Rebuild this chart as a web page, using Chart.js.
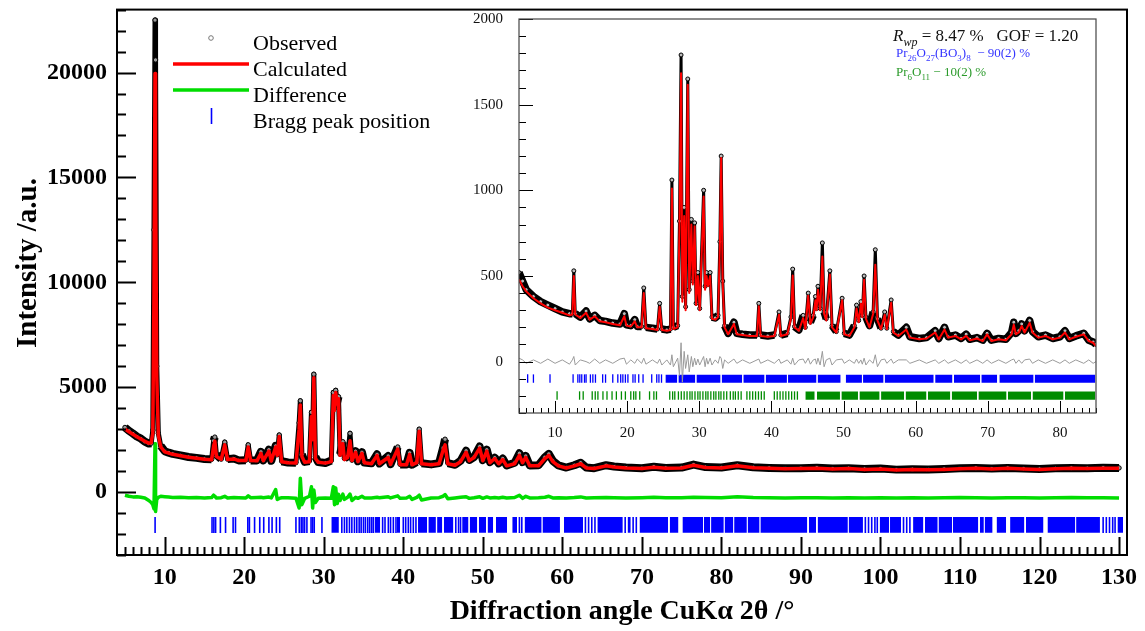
<!DOCTYPE html>
<html>
<head>
<meta charset="utf-8">
<script src="https://cdn.jsdelivr.net/npm/chart.js@4.4.0/dist/chart.umd.min.js"></script>
<style>
  html, body { margin: 0; padding: 0; background: #fff; }
  #wrap { position: relative; width: 1145px; height: 631px; }
  #main { position: absolute; left: 0; top: 0; }
  #inset { position: absolute; left: 460px; top: 12px; }
</style>
</head>
<body>
<div id="wrap">
  <canvas id="main" width="1145" height="631"></canvas>
  <canvas id="inset" width="650" height="440"></canvas>
</div>
<script>
// ---- main pattern (2theta 5-130) ----
var mainX = [
  5.0,5.5,6.0,6.5,7.0,7.5,8.0,8.3,8.5,8.65,
  8.78,8.85,9.0,9.2,9.5,10.0,10.5,11.0,12.0,13.0,
  14.0,15.0,15.9,16.15,16.3,16.5,17.1,17.55,17.9,18.7,
  19.3,20.2,20.5,20.8,21.6,22.1,22.4,23.1,23.4,23.95,
  24.15,24.4,24.7,25.5,26.5,26.9,27.05,27.25,27.6,28.2,
  28.45,28.6,28.75,28.95,29.3,30.2,30.95,31.2,31.35,31.5,
  31.7,31.85,32.05,32.4,32.6,33.0,33.3,33.55,34.0,34.3,
  34.8,35.1,36.0,36.7,37.0,38.1,38.4,39.3,39.6,40.4,
  40.8,41.1,41.7,42.0,42.3,43.5,44.5,45.0,45.25,45.6,
  46.5,47.2,47.9,48.3,48.9,49.6,50.0,50.5,50.9,51.5,
  52.0,52.5,53.0,54.0,54.6,55.0,55.4,55.9,57.0,57.8,
  58.3,58.8,59.5,60.5,61.5,62.3,63.0,64.0,65.5,66.5,
  68,70,71.5,73,75,76.5,78,80,82,84,
  86,88,90,92,94,96,98,100,102,104,
  106,108,110,112,114,116,118,120,122,124,
  126,128,130
];
var mainCalc = [
  3000,2880,2760,2640,2530,2420,2330,2350,2800,9500,
  19950,15000,5500,2700,2150,1920,1860,1800,1730,1660,
  1610,1560,1540,2200,2420,1700,1560,2250,1550,1580,
  1500,1500,2150,1500,1490,1850,1500,1950,1480,2150,
  1750,2650,1450,1400,1380,3000,4150,1700,1420,1450,
  3600,2500,5450,1600,1420,1380,1450,4600,3900,4750,
  4200,4450,1750,2300,1550,1650,2450,1500,1900,1450,
  1850,1400,1350,1750,1350,1650,1320,2050,1300,1300,
  1800,1300,1400,2900,1350,1300,1350,2000,2250,1350,
  1280,1450,1900,1500,1650,2100,1500,1950,1400,1600,
  1350,1550,1250,1350,1750,1400,1650,1250,1250,1600,
  1750,1450,1250,1150,1250,1350,1150,1120,1250,1200,
  1150,1120,1180,1130,1150,1280,1170,1150,1250,1160,
  1130,1110,1120,1140,1100,1120,1080,1100,1050,1070,
  1060,1080,1110,1130,1100,1130,1100,1080,1110,1130,
  1120,1140,1130
];
var mainObs = [
  3080,2920,2790,2650,2550,2400,2310,2330,2950,12500,
  22500,20600,6000,2800,2200,1950,1880,1820,1750,1670,
  1630,1580,1560,2450,2620,1780,1570,2380,1570,1600,
  1510,1520,2250,1510,1510,1920,1510,2020,1490,2200,
  1780,2720,1470,1410,1400,3300,4350,1800,1440,1480,
  3800,2650,5620,1680,1430,1390,1500,4750,4000,4850,
  4300,4550,1800,2400,1600,1700,2800,1520,1950,1470,
  1900,1410,1370,1800,1360,1720,1330,2150,1320,1320,
  1870,1310,1430,3000,1370,1320,1380,2100,2520,1380,
  1300,1490,1970,1530,1670,2170,1520,2020,1430,1640,
  1370,1600,1270,1400,1850,1430,1720,1270,1280,1660,
  1820,1490,1270,1170,1280,1400,1170,1140,1280,1220,
  1170,1140,1210,1150,1170,1310,1190,1170,1280,1180,
  1150,1130,1140,1160,1120,1140,1100,1120,1070,1090,
  1080,1100,1130,1150,1120,1150,1120,1100,1130,1150,
  1140,1160,1150
];
var mainDiff = [
  -150,-200,-230,-220,-250,-280,-400,-500,-600,-800,
  2300,-930,-350,-250,-200,-220,-240,-260,-250,-270,
  -260,-280,-260,-150,-200,-280,-270,-200,-280,-260,
  -270,-280,-180,-270,-260,-250,-270,-240,-280,120,
  -350,-300,-270,-270,-290,-760,660,-600,-300,-200,
  250,-760,100,-500,-300,-280,-300,250,-600,200,
  -550,-100,-400,-100,-350,-250,-100,-400,-250,-300,
  -200,-280,-280,-250,-270,-220,-280,-180,-300,-280,
  -200,-350,-250,-150,-380,-280,-270,-200,-120,-320,
  -280,-250,-220,-300,-270,-220,-300,-230,-280,-260,
  -280,-250,-280,-260,-150,-300,-200,-280,-270,-250,
  -200,-280,-270,-280,-260,-230,-280,-270,-260,-270,
  -280,-270,-250,-270,-270,-250,-260,-270,-220,-260,
  -270,-280,-270,-270,-280,-270,-280,-270,-280,-270,
  -280,-270,-260,-270,-280,-270,-270,-280,-270,-260,
  -270,-270,-280
];
var mainBraggTicks = [8.79,15.95,16.18,16.4,17.0,17.65,18.6,18.9,20.45,20.65,21.3,21.95,22.45,23.1,23.5,24.04,24.46,
  26.5,26.92,27.17,27.38,27.59,27.88,28.4,28.6,28.8,29.77,32.27,32.6,32.9,33.23,33.53,33.86,34.15,34.45,34.7,34.99,
  35.24,35.53,35.78,36.03,36.24,37.4,37.7,38.12,38.4,38.75,39.08,40.0,40.3,40.63,40.92,41.26,41.59,46.6,46.95,47.2,
  54.6,54.9,62.9,63.3,63.7,64.1,67.9,68.9,69.3,98.1,98.5,98.9,99.3,99.6,102.9,103.3,103.7,128.0,128.4,128.8,129.2,129.5];
var mainBraggBands = [[30.95,31.9],[36.4,37.1],[39.2,39.6],[41.85,43.0],[43.15,44.1],[44.25,44.9],[45.1,46.3],
  [47.4,48.2],[48.35,49.3],[49.5,50.4],[50.6,51.3],[51.65,53.05],[53.7,54.3],[55.25,57.4],[57.5,59.7],[60.2,62.6],
  [64.4,67.6],[68.2,68.6],[69.7,73.3],[73.5,74.6],[75.1,77.7],[77.8,78.6],[78.7,80.3],[80.4,81.5],[81.6,83.2],
  [83.3,84.8],[84.9,90.8],[91.0,91.9],[92.1,95.9],[96.0,97.8],[99.9,101.1],[101.2,102.6],[104.1,105.4],[105.6,107.2],
  [107.3,109.0],[109.1,112.3],[112.5,113.0],[113.1,114.1],[114.6,115.8],[116.3,118.1],[118.3,120.5],[121.0,124.5],
  [124.6,127.6],[129.8,130.5]];
var mainXTicks = [10,20,30,40,50,60,70,80,90,100,110,120,130];
var mainYTicks = [0,5000,10000,15000,20000];

// ---- inset pattern (2theta 5-85) ----
var insetX = [
  5.0,5.5,6.0,7.0,8.0,9.0,10.0,11.0,12.0,12.4,
  12.6,12.8,13.5,14.3,14.8,15.5,16.2,17.0,18.0,19.0,
  19.6,19.9,20.5,21.05,21.4,22.0,22.3,22.6,23.5,24.2,
  24.5,24.8,25.5,26.0,26.2,26.4,27.0,27.25,27.47,27.65,
  27.9,28.1,28.4,28.6,28.9,29.1,29.35,29.55,29.8,30.05,
  30.6,30.8,31.0,31.2,31.5,31.75,32.2,32.6,32.85,33.03,
  33.25,33.5,34.0,34.8,35.2,36.0,37.0,38.0,38.25,38.5,
  39.5,40.4,41.05,41.3,42.2,42.7,42.95,43.2,43.8,44.4,
  44.7,45.1,45.4,45.8,46.1,46.25,46.45,46.75,47.06,47.3,
  47.6,48.1,48.4,49.0,49.8,50.1,50.8,51.5,51.8,52.1,
  52.4,52.6,52.85,53.1,53.6,54.1,54.4,54.7,55.2,55.7,
  56.0,56.6,56.9,57.6,58.7,59.2,60.5,61.5,62.7,63.2,
  64.0,64.5,65.5,66.3,67.0,67.5,68.5,69.3,69.9,70.5,
  71.5,72.5,73.3,73.6,73.9,74.3,74.7,75.1,75.8,76.2,
  77,78,79,80,80.7,81.3,82.2,83.3,84.0,84.6,
  85.0
];
var insetCalc = [
  480,440,410,370,340,315,300,285,270,275,
  500,275,255,285,245,265,235,230,220,212,
  265,210,205,235,200,200,400,195,190,185,
  320,185,180,185,1010,190,200,780,1684,350,
  850,300,1616,400,800,450,790,330,500,300,
  964,420,500,440,500,250,245,260,670,1188,
  450,200,160,220,160,155,150,150,323,150,
  145,150,274,150,160,250,502,200,180,254,
  190,385,220,260,358,300,420,300,614,280,
  240,508,200,170,358,160,150,200,310,230,
  338,260,478,250,200,280,566,240,190,274,
  190,344,170,150,187,140,130,135,170,130,
  187,140,150,130,150,125,135,120,159,120,
  130,125,160,216,160,170,208,170,226,170,
  140,150,130,140,170,130,145,159,120,110,
  90
];
var insetObs = [
  520,470,420,380,350,330,310,290,280,280,
  530,280,260,295,250,270,240,235,225,220,
  280,215,210,245,205,205,430,200,195,190,
  340,190,185,190,1060,200,210,820,1790,380,
  900,320,1650,420,830,470,810,340,520,310,
  1000,440,520,450,520,260,255,270,700,1200,
  470,210,165,230,165,160,155,155,340,155,
  150,155,290,155,165,260,540,205,185,270,
  200,400,230,270,380,310,440,310,693,290,
  250,530,210,175,370,165,155,210,330,240,
  350,270,500,260,210,290,653,250,195,290,
  195,360,175,155,200,145,135,140,180,135,
  200,145,155,135,160,130,140,125,165,125,
  135,130,170,230,165,180,220,180,240,175,
  145,155,135,145,180,135,150,165,125,115,
  100
];
var insetDiff = [
  20,10,-10,10,-10,15,-10,10,-15,10,
  30,-20,10,0,-10,15,-10,10,-10,15,
  20,-15,10,-10,15,-10,20,-15,10,-10,
  15,-20,10,-20,40,-30,20,-80,110,-120,
  60,-40,40,-60,30,-30,20,-20,15,-20,
  30,-30,20,-15,20,-20,10,-10,30,20,
  -40,10,-10,15,-10,10,-10,10,15,-10,
  10,-10,15,-10,10,-15,20,-20,10,15,
  -10,20,-15,10,15,-15,20,-20,60,-30,
  10,20,-20,10,15,-10,10,-10,15,-10,
  10,-15,20,-20,10,-10,40,-30,10,15,
  -10,15,-10,10,10,-10,10,-10,10,-10,
  10,-10,10,-10,10,-10,10,-10,10,-10,
  10,-10,10,15,-10,10,-10,10,15,-10,
  10,-10,10,-10,10,-10,10,-10,10,-10,
  0
];
var insetBlueTicks = [6.2,7.0,9.3,12.5,13.16,13.43,13.7,14.08,14.3,14.9,15.24,15.6,16.6,17.0,18.0,18.7,19.1,19.4,
  19.75,20.1,20.8,21.1,21.6,22.2,23.4,24.1,24.4,24.76];
var insetBlueBands = [[25.3,26.95],[27.1,29.45],[29.6,32.95],[33.1,35.95],[36.1,39.05],[39.2,42.15],[42.3,46.25],
  [46.4,49.6],[50.3,52.55],[52.7,55.55],[55.7,62.5],[62.7,65.1],[65.3,68.95],[69.1,71.3],[71.6,76.35],[76.5,84.9]];
var insetGreenTicks = [10.28,13.4,13.9,15.15,15.57,15.94,16.64,17.2,17.9,18.5,19.2,19.75,20.5,20.9,21.2,21.74,23.1,
  23.7,24.06,25.9,26.3,26.6,27.1,27.5,27.9,28.3,28.7,29.0,29.4,29.8,30.1,30.5,30.9,31.2,31.6,32.0,32.3,32.7,33.0,
  33.4,33.8,34.3,34.7,35.0,35.4,35.8,36.6,37.0,37.4,37.8,38.2,38.6,39.0,40.4,40.8,41.2,41.6,42.0,42.4,42.8,43.2,43.6];
var insetGreenBands = [[44.7,46.0],[46.3,49.5],[49.7,52.0],[52.2,55.0],[55.2,58.4],[58.6,61.5],[61.7,64.8],
  [65.0,68.5],[68.7,72.6],[72.8,76.0],[76.2,80.5],[80.7,84.9]];
var insetXTicks = [10,20,30,40,50,60,70,80];
var insetYTicks = [0,500,1000,1500,2000];

var serif = '"Liberation Serif", "Times New Roman", serif';

function pts(xs, ys) {
  return xs.map(function (x, i) { return { x: x, y: ys[i] }; });
}
function tickPts(xs, level) {
  return xs.map(function (x) { return { x: x, y: level }; });
}
function bandPts(bands, level) {
  var out = [];
  bands.forEach(function (b) {
    out.push({ x: b[0], y: level }, { x: b[1], y: level }, { x: b[1], y: null });
  });
  return out;
}
// the observed band is thick on the background and thin on the steep peak flanks
function obsWidth(flat, steep) {
  return function (c) {
    var dx = Math.abs(c.p1.x - c.p0.x), dy = Math.abs(c.p1.y - c.p0.y);
    return dy > 3 * dx + 5 ? steep : flat;
  };
}

// inward major/minor ticks plus a box round the plot area
function frameTicks(cfg) {
  return {
    id: 'frameTicks',
    afterDraw: function (chart) {
      var ctx = chart.ctx, a = chart.chartArea, xs = chart.scales.x, ys = chart.scales.y, v, p, len;
      ctx.save();
      ctx.strokeStyle = '#000';
      ctx.lineWidth = cfg.tickWidth;
      ctx.beginPath();
      for (v = cfg.xFrom; v <= cfg.xTo; v += cfg.xMinor) {
        p = Math.round(xs.getPixelForValue(v)) + 0.5;
        len = v % cfg.xMajor === 0 ? cfg.xMajorLen : cfg.xMinorLen;
        ctx.moveTo(p, a.bottom); ctx.lineTo(p, a.bottom - len);
      }
      for (v = cfg.yFrom; v <= cfg.yTo; v += cfg.yMinor) {
        p = Math.round(ys.getPixelForValue(v)) + 0.5;
        len = v % cfg.yMajor === 0 ? cfg.yMajorLen : cfg.yMinorLen;
        ctx.moveTo(a.left, p); ctx.lineTo(a.left + len, p);
      }
      ctx.stroke();
      ctx.lineWidth = cfg.frameWidth;
      ctx.strokeStyle = cfg.frameColor;
      ctx.strokeRect(a.left, a.top, a.right - a.left, a.bottom - a.top);
      ctx.restore();
    }
  };
}

function drawRuns(ctx, x, y, runs, size, color) {
  ctx.fillStyle = color;
  ctx.textAlign = 'left';
  ctx.textBaseline = 'alphabetic';
  runs.forEach(function (r) {
    var fs = r.sub ? Math.round(size * 0.68) : size;
    ctx.font = (r.it ? 'italic ' : '') + fs + 'px ' + serif;
    ctx.fillText(r.t, x, y + (r.sub ? size * 0.3 : 0));
    x += ctx.measureText(r.t).width;
  });
}

var mainLegend = {
  id: 'mainLegend',
  afterDraw: function (chart) {
    var ctx = chart.ctx;
    ctx.save();
    ctx.lineWidth = 1;
    ctx.strokeStyle = '#777';
    ctx.beginPath(); ctx.arc(211, 38, 2.3, 0, Math.PI * 2); ctx.stroke();
    ctx.lineWidth = 3.5;
    ctx.strokeStyle = '#ff0000';
    ctx.beginPath(); ctx.moveTo(173, 64); ctx.lineTo(249, 64); ctx.stroke();
    ctx.strokeStyle = '#00dd00';
    ctx.beginPath(); ctx.moveTo(173, 90); ctx.lineTo(249, 90); ctx.stroke();
    ctx.lineWidth = 1.6;
    ctx.strokeStyle = '#0000ff';
    ctx.beginPath(); ctx.moveTo(211.5, 108); ctx.lineTo(211.5, 124); ctx.stroke();
    ctx.fillStyle = '#000';
    ctx.font = '22px ' + serif;
    ctx.textAlign = 'left';
    ctx.textBaseline = 'alphabetic';
    ctx.fillText('Observed', 253, 50);
    ctx.fillText('Calculated', 253, 76);
    ctx.fillText('Difference', 253, 101.5);
    ctx.fillText('Bragg peak position', 253, 127.5);
    // y axis title
    ctx.translate(29, 263);
    ctx.rotate(-Math.PI / 2);
    ctx.font = 'bold 29px ' + serif;
    ctx.textAlign = 'center';
    ctx.textBaseline = 'middle';
    ctx.fillText('Intensity /a.u.', 0, 0);
    ctx.restore();
  }
};

var insetText = {
  id: 'insetText',
  afterDraw: function (chart) {
    var ctx = chart.ctx;
    ctx.save();
    drawRuns(ctx, 433, 29, [{ t: 'R', it: true }, { t: 'wp', it: true, sub: true }, { t: ' = 8.47 %   GOF = 1.20' }], 17, '#111');
    drawRuns(ctx, 436, 45, [{ t: 'Pr' }, { t: '26', sub: true }, { t: 'O' }, { t: '27', sub: true }, { t: '(BO' },
      { t: '3', sub: true }, { t: ')' }, { t: '8', sub: true }, { t: '  \u2212 90(2) %' }], 13, '#3535ff');
    drawRuns(ctx, 436, 64, [{ t: 'Pr' }, { t: '6', sub: true }, { t: 'O' }, { t: '11', sub: true }, { t: ' \u2212 10(2) %' }], 13, '#2a9a2a');
    ctx.restore();
  }
};

function fixTicks(list) {
  return function (s) { s.ticks = list.map(function (v) { return { value: v }; }); };
}
function fixX(h) {
  return function (s) { s.height = h; s.paddingLeft = 0; s.paddingRight = 0; };
}
function fixY(w) {
  return function (s) { s.width = w; s.paddingTop = 0; s.paddingBottom = 0; };
}

// ---- main chart ----
new Chart(document.getElementById('main'), {
  type: 'line',
  data: {
    datasets: [
      { label: 'Calculated', data: pts(mainX, mainCalc), borderColor: '#ff0000', borderWidth: 3.5,
        pointRadius: 0, borderJoinStyle: 'round', order: 0 },
      { label: 'Observed', data: pts(mainX, mainObs), borderColor: '#000', borderWidth: 8,
        segment: { borderWidth: obsWidth(8, 5) },
        borderJoinStyle: 'round', pointRadius: 2.2, pointBorderColor: '#000', pointBackgroundColor: '#999',
        pointBorderWidth: 1, order: 1 },
      { label: 'Difference', data: pts(mainX, mainDiff), borderColor: '#00dd00', borderWidth: 3.5,
        pointRadius: 0, borderJoinStyle: 'round', order: 2 },
      { label: 'Bragg peak position', data: tickPts(mainBraggTicks, -1565), showLine: false,
        pointStyle: 'line', pointRotation: 90, pointRadius: 8, pointBorderColor: '#0000ff',
        pointBorderWidth: 1.6, order: 3 },
      { label: 'Bragg bands', data: bandPts(mainBraggBands, -1185), borderColor: 'rgba(0,0,0,0)',
        borderWidth: 0, pointRadius: 0, backgroundColor: '#0000ff', fill: { value: -1945 },
        spanGaps: false, order: 4 }
    ]
  },
  options: {
    responsive: false,
    animation: false,
    layout: { padding: { top: 7, right: 18, left: 0, bottom: 0 } },
    plugins: { legend: { display: false }, tooltip: { enabled: false } },
    scales: {
      x: {
        type: 'linear', min: 4, max: 131,
        afterBuildTicks: fixTicks(mainXTicks),
        afterFit: fixX(76),
        grid: { display: false, drawTicks: false },
        border: { display: false },
        ticks: { color: '#000', padding: 8, maxRotation: 0, autoSkip: false,
          font: { family: serif, size: 24, weight: 'bold' }, callback: function (v) { return String(v); } },
        title: { display: true, text: 'Diffraction angle CuK\u03b1 2\u03b8 /\u00b0', color: '#000',
          font: { family: serif, size: 28, weight: 'bold' }, padding: { top: 0, bottom: 2 } }
      },
      y: {
        type: 'linear', min: -3000, max: 23000,
        afterBuildTicks: fixTicks(mainYTicks),
        afterFit: fixY(117),
        grid: { display: false, drawTicks: false },
        border: { display: false },
        ticks: { color: '#000', padding: 10, autoSkip: false,
          font: { family: serif, size: 24, weight: 'bold' }, callback: function (v) { return String(v); } }
      }
    }
  },
  plugins: [frameTicks({ xFrom: 5, xTo: 130, xMinor: 1, xMajor: 10, xMajorLen: 18, xMinorLen: 8,
    yFrom: -3000, yTo: 23000, yMinor: 1000, yMajor: 5000, yMajorLen: 19, yMinorLen: 9,
    tickWidth: 2, frameWidth: 2, frameColor: '#000' }), mainLegend]
});

// ---- inset chart ----
new Chart(document.getElementById('inset'), {
  type: 'line',
  data: {
    datasets: [
      { label: 'Calculated', data: pts(insetX, insetCalc), borderColor: '#ff0000', borderWidth: 2,
        pointRadius: 0, borderJoinStyle: 'round', order: 0 },
      { label: 'Observed', data: pts(insetX, insetObs), borderColor: '#000', borderWidth: 7,
        segment: { borderWidth: obsWidth(7.5, 3) },
        borderJoinStyle: 'round', pointRadius: 2, pointBorderColor: '#000', pointBackgroundColor: '#bbb',
        pointBorderWidth: 1, order: 1 },
      { label: 'Difference', data: pts(insetX, insetDiff), borderColor: '#9a9a9a', borderWidth: 1,
        pointRadius: 0, order: 2 },
      { label: 'Pr26O27(BO3)8', data: tickPts(insetBlueTicks, -99), showLine: false,
        pointStyle: 'line', pointRotation: 90, pointRadius: 4.2, pointBorderColor: '#0000ff',
        pointBorderWidth: 1.3, order: 3 },
      { label: 'Pr26O27(BO3)8 bands', data: bandPts(insetBlueBands, -76), borderColor: 'rgba(0,0,0,0)',
        borderWidth: 0, pointRadius: 0, backgroundColor: '#0000ff', fill: { value: -123 }, order: 4 },
      { label: 'Pr6O11', data: tickPts(insetGreenTicks, -198), showLine: false,
        pointStyle: 'line', pointRotation: 90, pointRadius: 4.2, pointBorderColor: '#008c00',
        pointBorderWidth: 1.3, order: 5 },
      { label: 'Pr6O11 bands', data: bandPts(insetGreenBands, -175), borderColor: 'rgba(0,0,0,0)',
        borderWidth: 0, pointRadius: 0, backgroundColor: '#008c00', fill: { value: -222 }, order: 6 }
    ]
  },
  options: {
    responsive: false,
    animation: false,
    layout: { padding: { top: 7, right: 14, left: 0, bottom: 0 } },
    plugins: { legend: { display: false }, tooltip: { enabled: false } },
    scales: {
      x: {
        type: 'linear', min: 5, max: 85,
        afterBuildTicks: fixTicks(insetXTicks),
        afterFit: fixX(39),
        grid: { display: false, drawTicks: false },
        border: { display: false },
        ticks: { color: '#111', padding: 11, maxRotation: 0, autoSkip: false,
          font: { family: serif, size: 15 }, callback: function (v) { return String(v); } }
      },
      y: {
        type: 'linear', min: -300, max: 2000,
        afterBuildTicks: fixTicks(insetYTicks),
        afterFit: fixY(59),
        grid: { display: false, drawTicks: false },
        border: { display: false },
        ticks: { color: '#111', padding: 16, autoSkip: false,
          font: { family: serif, size: 15 }, callback: function (v) { return String(v); } }
      }
    }
  },
  plugins: [frameTicks({ xFrom: 5, xTo: 85, xMinor: 1, xMajor: 10, xMajorLen: 12, xMinorLen: 5,
    yFrom: -300, yTo: 2000, yMinor: 100, yMajor: 500, yMajorLen: 14, yMinorLen: 7,
    tickWidth: 1, frameWidth: 1.2, frameColor: '#444' }), insetText]
});
</script>
</body>
</html>
